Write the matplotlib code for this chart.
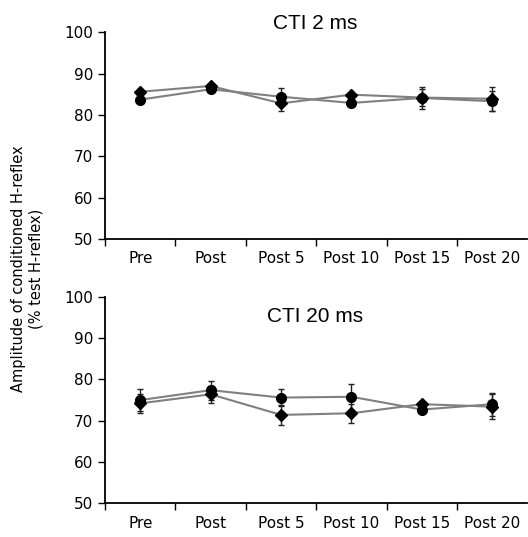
import matplotlib
matplotlib.use("Agg")
import matplotlib.pyplot as plt
import numpy as np

categories = ["Pre", "Post", "Post 5", "Post 10", "Post 15", "Post 20"]

# CTI 2 ms
cti2_circle = [83.7, 86.2, 84.4, 82.9, 84.1, 83.3]
cti2_circle_err = [0.5, 0.5, 2.0, 0.5, 2.7, 2.4]
cti2_diamond = [85.6, 87.0, 82.8, 84.9, 84.2, 83.9]
cti2_diamond_err = [0.5, 0.5, 1.8, 0.5, 2.1, 2.9]

# CTI 20 ms
cti20_circle = [75.0, 77.4, 75.6, 75.8, 72.7, 74.0]
cti20_circle_err = [2.7, 2.3, 2.1, 3.1, 0.6, 2.8]
cti20_diamond = [74.2, 76.4, 71.4, 71.8, 74.0, 73.4]
cti20_diamond_err = [2.3, 2.0, 2.4, 2.3, 0.6, 3.1]

fig = plt.figure(figsize=(5.28, 5.37), dpi=100)
ax1 = fig.add_axes([0.199, 0.555, 0.80, 0.385])
ax2 = fig.add_axes([0.199, 0.063, 0.80, 0.384])

x = np.arange(len(categories))


def draw(ax, circ, circ_err, dia, dia_err):
    for vals, err, mk, ms in [(dia, dia_err, "D", 6), (circ, circ_err, "o", 7)]:
        ax.plot(x, vals, "-", color="#808080", lw=1.5, zorder=2)
        ax.errorbar(x, vals, yerr=err, fmt=mk, color="black", ms=ms,
                    ecolor="#222222", elinewidth=1, capsize=2.5, capthick=1, zorder=3)
    ax.set_xlim(-0.5, 5.5)
    ax.set_ylim(50, 100)
    ax.set_yticks([50, 60, 70, 80, 90, 100])
    ax.set_xticks(np.arange(-0.5, 5.5, 1.0))
    ax.set_xticklabels([])
    ax.set_xticks(x, minor=True)
    ax.set_xticklabels(categories, minor=True)
    ax.tick_params(axis="x", which="major", direction="out", length=5, width=1)
    ax.tick_params(axis="x", which="minor", length=0, pad=9, labelsize=11)
    ax.tick_params(axis="y", direction="out", length=5, width=1, labelsize=11)
    ax.spines["top"].set_visible(False)
    ax.spines["right"].set_visible(False)
    ax.spines["left"].set_linewidth(1.3)
    ax.spines["bottom"].set_linewidth(1.3)


draw(ax1, cti2_circle, cti2_circle_err, cti2_diamond, cti2_diamond_err)
draw(ax2, cti20_circle, cti20_circle_err, cti20_diamond, cti20_diamond_err)

fig.text(0.597, 0.957, "CTI 2 ms", ha="center", va="center",
         fontsize=15, family="Liberation Sans")
fig.text(0.597, 0.41, "CTI 20 ms", ha="center", va="center",
         fontsize=15, family="Liberation Sans")
fig.text(0.052, 0.5, "Amplitude of conditioned H-reflex\n(% test H-reflex)",
         rotation=90, ha="center", va="center", fontsize=10.5, linespacing=1.25)

fig.savefig("out.png", dpi=100)
